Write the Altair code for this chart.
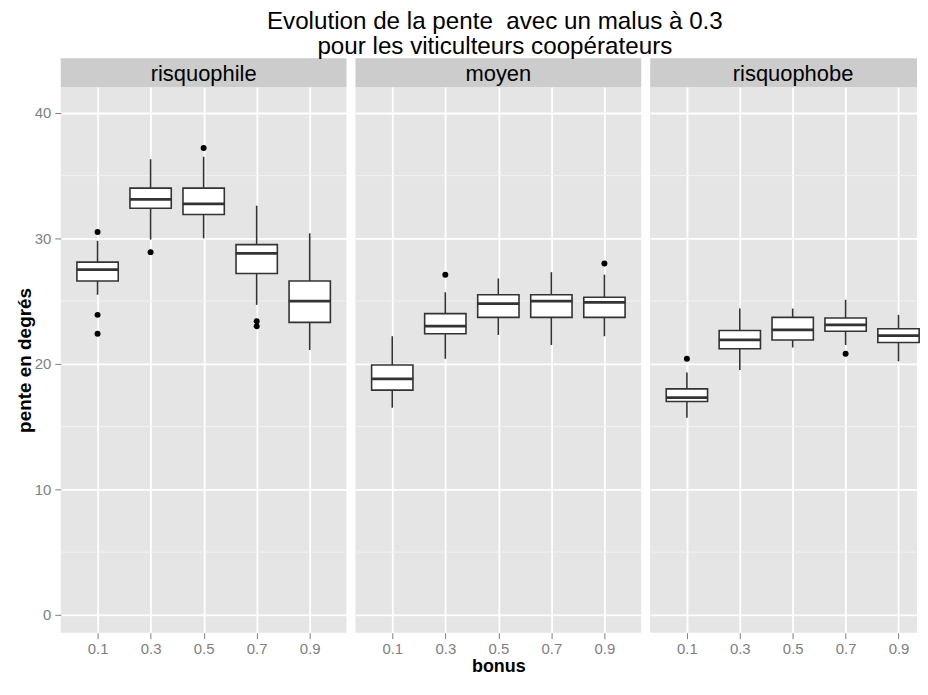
import altair as alt
import pandas as pd

# ---------------- data ----------------
profils = ["risquophile", "moyen", "risquophobe"]
bonus = [0.1, 0.3, 0.5, 0.7, 0.9]

lower = {
    "risquophile": [25.5, 29.9, 30.0, 24.7, 21.1],
    "moyen":       [16.5, 20.4, 22.3, 21.5, 22.2],
    "risquophobe": [15.7, 19.5, 21.3, 21.5, 20.2],
}
q1 = {
    "risquophile": [26.6, 32.4, 31.9, 27.2, 23.3],
    "moyen":       [17.9, 22.4, 23.7, 23.7, 23.7],
    "risquophobe": [17.0, 21.2, 21.9, 22.6, 21.7],
}
median = {
    "risquophile": [27.5, 33.1, 32.75, 28.8, 25.0],
    "moyen":       [18.8, 23.0, 24.8, 25.0, 24.9],
    "risquophobe": [17.3, 21.9, 22.7, 23.1, 22.25],
}
q3 = {
    "risquophile": [28.1, 34.0, 34.0, 29.5, 26.6],
    "moyen":       [19.9, 24.0, 25.5, 25.5, 25.3],
    "risquophobe": [18.0, 22.65, 23.7, 23.65, 22.8],
}
upper = {
    "risquophile": [29.8, 36.3, 36.5, 32.6, 30.4],
    "moyen":       [22.2, 25.7, 26.8, 27.3, 27.1],
    "risquophobe": [19.3, 24.4, 24.4, 25.1, 23.9],
}
outlier_bonus = {
    "risquophile": [0.1, 0.1, 0.1, 0.3, 0.5, 0.7, 0.7],
    "moyen":       [0.3, 0.9],
    "risquophobe": [0.1, 0.7],
}
outlier_value = {
    "risquophile": [30.5, 23.9, 22.4, 28.9, 37.2, 23.4, 23.0],
    "moyen":       [27.1, 28.0],
    "risquophobe": [20.4, 20.8],
}
y_ticks = [0, 10, 20, 30, 40]
y_minor = [5, 15, 25, 35]
title_lines = ["Evolution de la pente \u00a0avec un malus à 0.3",
               "pour les viticulteurs coopérateurs"]

# ---------------- style ----------------
FONT = "Liberation Sans"
PANEL_W = 287
PANEL_H = 548
STRIP_H = 29
GREY_TXT = "#7F7F7F"
BOX_COL = "#333333"
x_lo, x_hi = -0.02, 1.02
widths = [287, 287, 268]

yscale = alt.Scale(domain=[-1.43, 42.05], nice=False, zero=False)


def make_panel(i, prof):
    w = widths[i]
    xmax = x_lo + (x_hi - x_lo) * w / PANEL_W
    xscale = alt.Scale(domain=[x_lo, xmax], nice=False, zero=False)
    xaxis = alt.Axis(
        values=bonus, format=".1f", grid=True, gridColor="white", gridWidth=1.8,
        domain=False, tickColor=GREY_TXT, tickSize=6, tickWidth=1,
        labelColor=GREY_TXT, labelFontSize=15, labelFont=FONT, labelPadding=3,
        title="bonus" if i == 1 else None,
        titleFont=FONT, titleFontSize=18, titleFontWeight="bold", titleColor="black",
        titleBaseline="alphabetic", titleY=39, titleX=PANEL_W / 2,
    )
    if i == 0:
        yaxis = alt.Axis(
            values=y_ticks, grid=True, gridColor="white", gridWidth=1.8,
            domain=False, tickColor=GREY_TXT, tickSize=6, tickWidth=1,
            labelColor=GREY_TXT, labelFontSize=15, labelFont=FONT, labelPadding=4,
            title="pente en degrés", titleFont=FONT, titleFontSize=19,
            titleFontWeight="bold", titleColor="black", titleAngle=270,
            titleAlign="center", titleBaseline="alphabetic",
            titleX=-30, titleY=PANEL_H / 2,
        )
    else:
        yaxis = alt.Axis(
            values=y_ticks, grid=True, gridColor="white", gridWidth=1.8,
            domain=False, ticks=False, labels=False, title=None,
        )

    def X(f):
        return alt.X(f, type="quantitative", scale=xscale, axis=xaxis)

    def Y(f):
        return alt.Y(f, type="quantitative", scale=yscale, axis=yaxis)

    df = pd.DataFrame({
        "bonus": bonus, "lower": lower[prof], "q1": q1[prof],
        "median": median[prof], "q3": q3[prof], "upper": upper[prof],
    })
    out = pd.DataFrame({"bonus": outlier_bonus[prof], "value": outlier_value[prof]})
    minor = pd.DataFrame({"v": y_minor})
    strip = pd.DataFrame({"profil": [prof]})

    minor_layer = alt.Chart(minor).mark_rule(color="#F2F2F2", strokeWidth=1).encode(
        y=Y("v"))
    whisk = alt.Chart(df).mark_rule(color=BOX_COL, strokeWidth=1.6).encode(
        x=X("bonus"), y=Y("lower"), y2="upper")
    box = alt.Chart(df).mark_bar(size=41.5, fill="white", stroke=BOX_COL,
                                 strokeWidth=1.6).encode(
        x=X("bonus"), y=Y("q1"), y2="q3")
    med = alt.Chart(df).mark_tick(orient="horizontal", size=42, thickness=2.8,
                                  color=BOX_COL, opacity=1).encode(
        x=X("bonus"), y=Y("median"))
    pts = alt.Chart(out).mark_circle(size=36, color="black", opacity=1).encode(
        x=X("bonus"), y=Y("value"))
    strip_bg = alt.Chart(strip).mark_rect(color="#CCCCCC").encode(
        x=alt.value(0), x2=alt.value(w), y=alt.value(-STRIP_H), y2=alt.value(0))
    strip_txt = alt.Chart(strip).mark_text(
        font=FONT, fontSize=22, color="black", baseline="alphabetic",
        align="center").encode(
        text="profil:N", x=alt.value(PANEL_W / 2), y=alt.value(-6))

    return alt.layer(minor_layer, whisk, box, med, pts, strip_bg, strip_txt).properties(
        width=w, height=PANEL_H)


panels = [make_panel(i, p) for i, p in enumerate(profils)]

chart = alt.hconcat(*panels, spacing=7).properties(
    title=alt.TitleParams(
        text=title_lines, font=FONT, fontSize=24.3, fontWeight="normal",
        color="black", anchor="middle", lineHeight=25, offset=-1, dx=27),
    padding={"left": 8, "top": 0, "right": 0, "bottom": -1},
    background="white",
).configure_view(fill="#E5E5E5", stroke=None)

chart.save("out.html", embed_options={"renderer": "svg", "actions": False})
